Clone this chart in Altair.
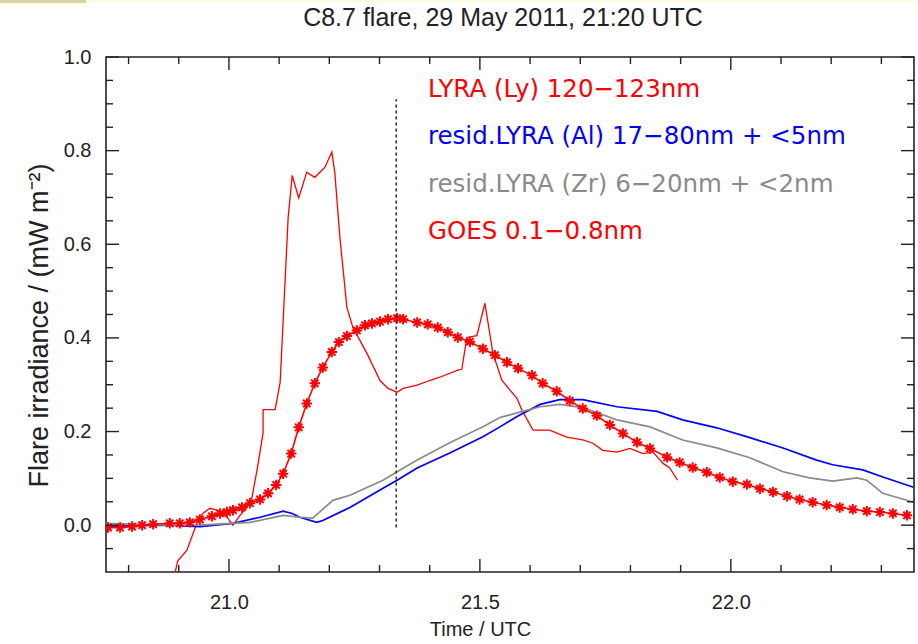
import altair as alt
import pandas as pd

# ---------------- data ----------------
goes_t = [20.759, 20.783, 20.807, 20.827, 20.849, 20.882, 20.902, 20.922, 20.942, 20.966,
          20.982, 20.996, 21.008, 21.026, 21.042, 21.062, 21.078, 21.094, 21.108, 21.124,
          21.139, 21.155, 21.171, 21.187, 21.205, 21.219, 21.235, 21.255, 21.271, 21.285,
          21.301, 21.317, 21.335, 21.347, 21.375, 21.396, 21.416, 21.436, 21.456, 21.480,
          21.506, 21.530, 21.554, 21.576, 21.604, 21.625, 21.653, 21.679, 21.705, 21.733,
          21.759, 21.785, 21.813, 21.839, 21.873, 21.898, 21.924, 21.952, 21.978, 22.004,
          22.032, 22.058, 22.084, 22.112, 22.137, 22.163, 22.191, 22.217, 22.243, 22.271,
          22.297, 22.323, 22.351]
goes_v = [-0.005, -0.005, -0.003, 0.000, 0.002, 0.004, 0.004, 0.006, 0.012, 0.019,
          0.025, 0.028, 0.032, 0.038, 0.047, 0.055, 0.068, 0.086, 0.110, 0.153,
          0.209, 0.260, 0.303, 0.337, 0.370, 0.391, 0.404, 0.416, 0.427, 0.431,
          0.435, 0.440, 0.442, 0.440, 0.433, 0.429, 0.422, 0.412, 0.401, 0.392,
          0.377, 0.363, 0.348, 0.335, 0.320, 0.303, 0.286, 0.266, 0.249, 0.234,
          0.214, 0.196, 0.177, 0.164, 0.145, 0.134, 0.123, 0.113, 0.102, 0.093,
          0.087, 0.078, 0.071, 0.062, 0.055, 0.049, 0.043, 0.038, 0.034, 0.030,
          0.028, 0.025, 0.021]

ly_t = [20.880, 20.892, 20.898, 20.916, 20.936, 20.948, 20.962, 20.976, 20.996, 21.008,
        21.022, 21.036, 21.046, 21.056, 21.068, 21.068, 21.092, 21.102, 21.118, 21.126,
        21.139, 21.155, 21.171, 21.191, 21.205, 21.211, 21.221, 21.235, 21.247, 21.275,
        21.301, 21.317, 21.335, 21.347, 21.375, 21.400, 21.420, 21.456, 21.464, 21.474,
        21.494, 21.510, 21.526, 21.544, 21.574, 21.584, 21.606, 21.639, 21.673, 21.705,
        21.725, 21.745, 21.773, 21.799, 21.825, 21.845, 21.865, 21.878, 21.894]
ly_v = [-0.130, -0.104, -0.076, -0.054, 0.004, 0.025, 0.036, 0.032, 0.017, 0.000,
        0.021, 0.038, 0.060, 0.118, 0.197, 0.247, 0.247, 0.305, 0.658, 0.747,
        0.699, 0.754, 0.743, 0.764, 0.797, 0.752, 0.615, 0.465, 0.422, 0.367,
        0.309, 0.292, 0.284, 0.292, 0.299, 0.309, 0.316, 0.331, 0.333, 0.401,
        0.405, 0.474, 0.367, 0.309, 0.271, 0.245, 0.203, 0.203, 0.188, 0.182,
        0.175, 0.160, 0.156, 0.164, 0.153, 0.156, 0.132, 0.123, 0.096]

al_t = [20.755, 20.876, 20.942, 21.008, 21.062, 21.108, 21.126, 21.141, 21.175, 21.187,
        21.241, 21.307, 21.335, 21.375, 21.440, 21.506, 21.540, 21.574, 21.620, 21.659,
        21.705, 21.773, 21.853, 21.904, 21.972, 22.038, 22.104, 22.171, 22.203, 22.263,
        22.303, 22.364]
al_v = [-0.002, 0.000, -0.003, 0.004, 0.017, 0.030, 0.025, 0.017, 0.006, 0.010,
        0.038, 0.079, 0.096, 0.122, 0.154, 0.189, 0.210, 0.232, 0.258, 0.268,
        0.268, 0.253, 0.243, 0.225, 0.208, 0.187, 0.165, 0.139, 0.129, 0.118,
        0.103, 0.081]

zr_t = [20.755, 20.876, 20.942, 21.042, 21.108, 21.141, 21.167, 21.207, 21.241, 21.307,
        21.335, 21.375, 21.440, 21.506, 21.540, 21.574, 21.620, 21.659, 21.705, 21.773,
        21.839, 21.904, 21.972, 22.038, 22.104, 22.157, 22.203, 22.251, 22.271, 22.303,
        22.364]
zr_v = [0.004, 0.000, 0.000, 0.006, 0.021, 0.017, 0.015, 0.053, 0.064, 0.096,
        0.114, 0.139, 0.176, 0.210, 0.230, 0.240, 0.253, 0.258, 0.251, 0.225,
        0.210, 0.182, 0.165, 0.144, 0.114, 0.101, 0.094, 0.101, 0.096, 0.068,
        0.049]

flare_time = [21.3333]
flare_span = [-0.005, 0.91]

title_text = "C8.7 flare, 29 May 2011, 21:20 UTC"
legend_labels = ["LYRA (Ly) 120\u2212123nm",
                 "resid.LYRA (Al) 17\u221280nm + <5nm",
                 "resid.LYRA (Zr) 6\u221220nm + <2nm",
                 "GOES 0.1\u22120.8nm"]
legend_colors = ["#ff0000", "#0000ff", "#8a8a8a", "#ff0000"]

x_major = [21.0, 21.5, 22.0]
x_minor = [20.8, 20.9, 21.1, 21.2, 21.3, 21.4, 21.6, 21.7, 21.8, 21.9, 22.1, 22.2, 22.3]
y_major = [0.0, 0.2, 0.4, 0.6, 0.8, 1.0]
y_minor = [-0.05, 0.05, 0.1, 0.15, 0.25, 0.3, 0.35, 0.45, 0.5, 0.55,
           0.65, 0.7, 0.75, 0.85, 0.9, 0.95]

# ---------------- layout ----------------
W, H = 808, 515
XDOM = [20.755, 22.365]
YDOM = [-0.1, 1.0]
FONT = "Liberation Sans"
INK = "#222"
xs = alt.Scale(domain=XDOM, nice=False, zero=False)
ys = alt.Scale(domain=YDOM, nice=False, zero=False)

x_axis = alt.Axis(
    values=x_major, format=".1f", ticks=False, domain=False, grid=False,
    labelFont=FONT, labelFontSize=20, labelColor=INK, labelPadding=20,
    title="Time / UTC", titleFont=FONT, titleFontSize=20, titleFontWeight="normal",
    titleColor=INK, titlePadding=7, titleX=374)
y_axis = alt.Axis(
    values=y_major, format=".1f", ticks=False, domain=False, grid=False,
    labelFont=FONT, labelFontSize=20, labelColor=INK, labelPadding=15,
    title="Flare irradiance / (mW m\u207b\u00b2)", titleFont=FONT, titleFontSize=27,
    titleFontWeight="normal", titleColor=INK, titlePadding=10, titleY=268)

X = alt.X("t:Q", scale=xs, axis=x_axis)
Y = alt.Y("v:Q", scale=ys, axis=y_axis)


def series(t, v):
    return pd.DataFrame({"t": t, "v": v, "i": list(range(len(t)))})


ly = alt.Chart(series(ly_t, ly_v)).mark_line(color="#ff0000", strokeWidth=1.3, clip=True).encode(
    x=X, y=Y, order="i:Q")
al = alt.Chart(series(al_t, al_v)).mark_line(color="#0000ff", strokeWidth=1.7, clip=True).encode(
    x=X, y=Y, order="i:Q")
zr = alt.Chart(series(zr_t, zr_v)).mark_line(color="#8a8a8a", strokeWidth=1.7, clip=True).encode(
    x=X, y=Y, order="i:Q")
goes_line = alt.Chart(series(goes_t, goes_v)).mark_line(color="#ff0000", strokeWidth=1.6, clip=True).encode(
    x=X, y=Y, order="i:Q")
ASTERISK = "M-1,0L1,0M0,-1L0,1M-0.7,-0.7L0.7,0.7M-0.7,0.7L0.7,-0.7"
goes_pts = alt.Chart(series(goes_t, goes_v)).mark_point(
    shape=ASTERISK, filled=False, color="#ff0000", strokeWidth=2.0, size=110, opacity=1, clip=True
).encode(x=X, y=Y)

flare = alt.Chart(pd.DataFrame({"t": flare_time, "v": [flare_span[0]], "v1": [flare_span[1]]})).mark_rule(
    color="#333", strokeWidth=1.6, strokeDash=[3, 3]
).encode(x=X, y=Y, y2="v1:Q")

legend_y = [33, 80, 128, 175]
legend_layers = []
for lab, col, yy in zip(legend_labels, legend_colors, legend_y):
    legend_layers.append(
        alt.Chart(pd.DataFrame({"lab": [lab]})).mark_text(
            align="left", baseline="middle", font="DejaVu Sans", fontSize=24.5, color=col
        ).encode(text="lab:N", x=alt.value(322), y=alt.value(yy))
    )

title_layer = alt.Chart(pd.DataFrame({"lab": [title_text]})).mark_text(
    align="center", baseline="alphabetic", font=FONT, fontSize=25, color=INK
).encode(text="lab:N", x=alt.value(397), y=alt.value(-31))

# thin screenshot strip along the very top edge of the reference image
strip = [
    alt.Chart(pd.DataFrame({"s": ["khaki"]})).mark_rect(color="#d8d29c").encode(
        x=alt.value(-106), x2=alt.value(-20), y=alt.value(-57), y2=alt.value(-54)),
    alt.Chart(pd.DataFrame({"s": ["pale"]})).mark_rect(color="#fdfae6").encode(
        x=alt.value(-20), x2=alt.value(W + 4), y=alt.value(-57), y2=alt.value(-54)),
]


# inward ticks (IDL style) on all four sides
def yticks(vals, length):
    d = pd.DataFrame({"v": vals})
    left = alt.Chart(d).mark_rule(color=INK, strokeWidth=1.4).encode(
        y=Y, x=alt.value(0), x2=alt.value(length))
    right = alt.Chart(d).mark_rule(color=INK, strokeWidth=1.4).encode(
        y=Y, x=alt.value(W - length), x2=alt.value(W))
    return [left, right]


def xticks(vals, length):
    d = pd.DataFrame({"t": vals})
    bottom = alt.Chart(d).mark_rule(color=INK, strokeWidth=1.4).encode(
        x=X, y=alt.value(H - length), y2=alt.value(H))
    top = alt.Chart(d).mark_rule(color=INK, strokeWidth=1.4).encode(
        x=X, y=alt.value(0), y2=alt.value(length))
    return [bottom, top]


tick_layers = yticks(y_major, 13) + yticks(y_minor, 7) + xticks(x_major, 13) + xticks(x_minor, 7)

chart = alt.layer(
    ly, al, zr, goes_line, goes_pts, flare, *legend_layers, title_layer, *strip, *tick_layers
).properties(
    width=W, height=H,
    autosize=alt.AutoSizeParams(type="none"),
    padding={"left": 106, "top": 57, "right": 4, "bottom": 72},
    background="white",
).configure_view(
    stroke=INK, strokeWidth=1.6
)

chart.save("out.html", embed_options={"renderer": "svg", "actions": False})
